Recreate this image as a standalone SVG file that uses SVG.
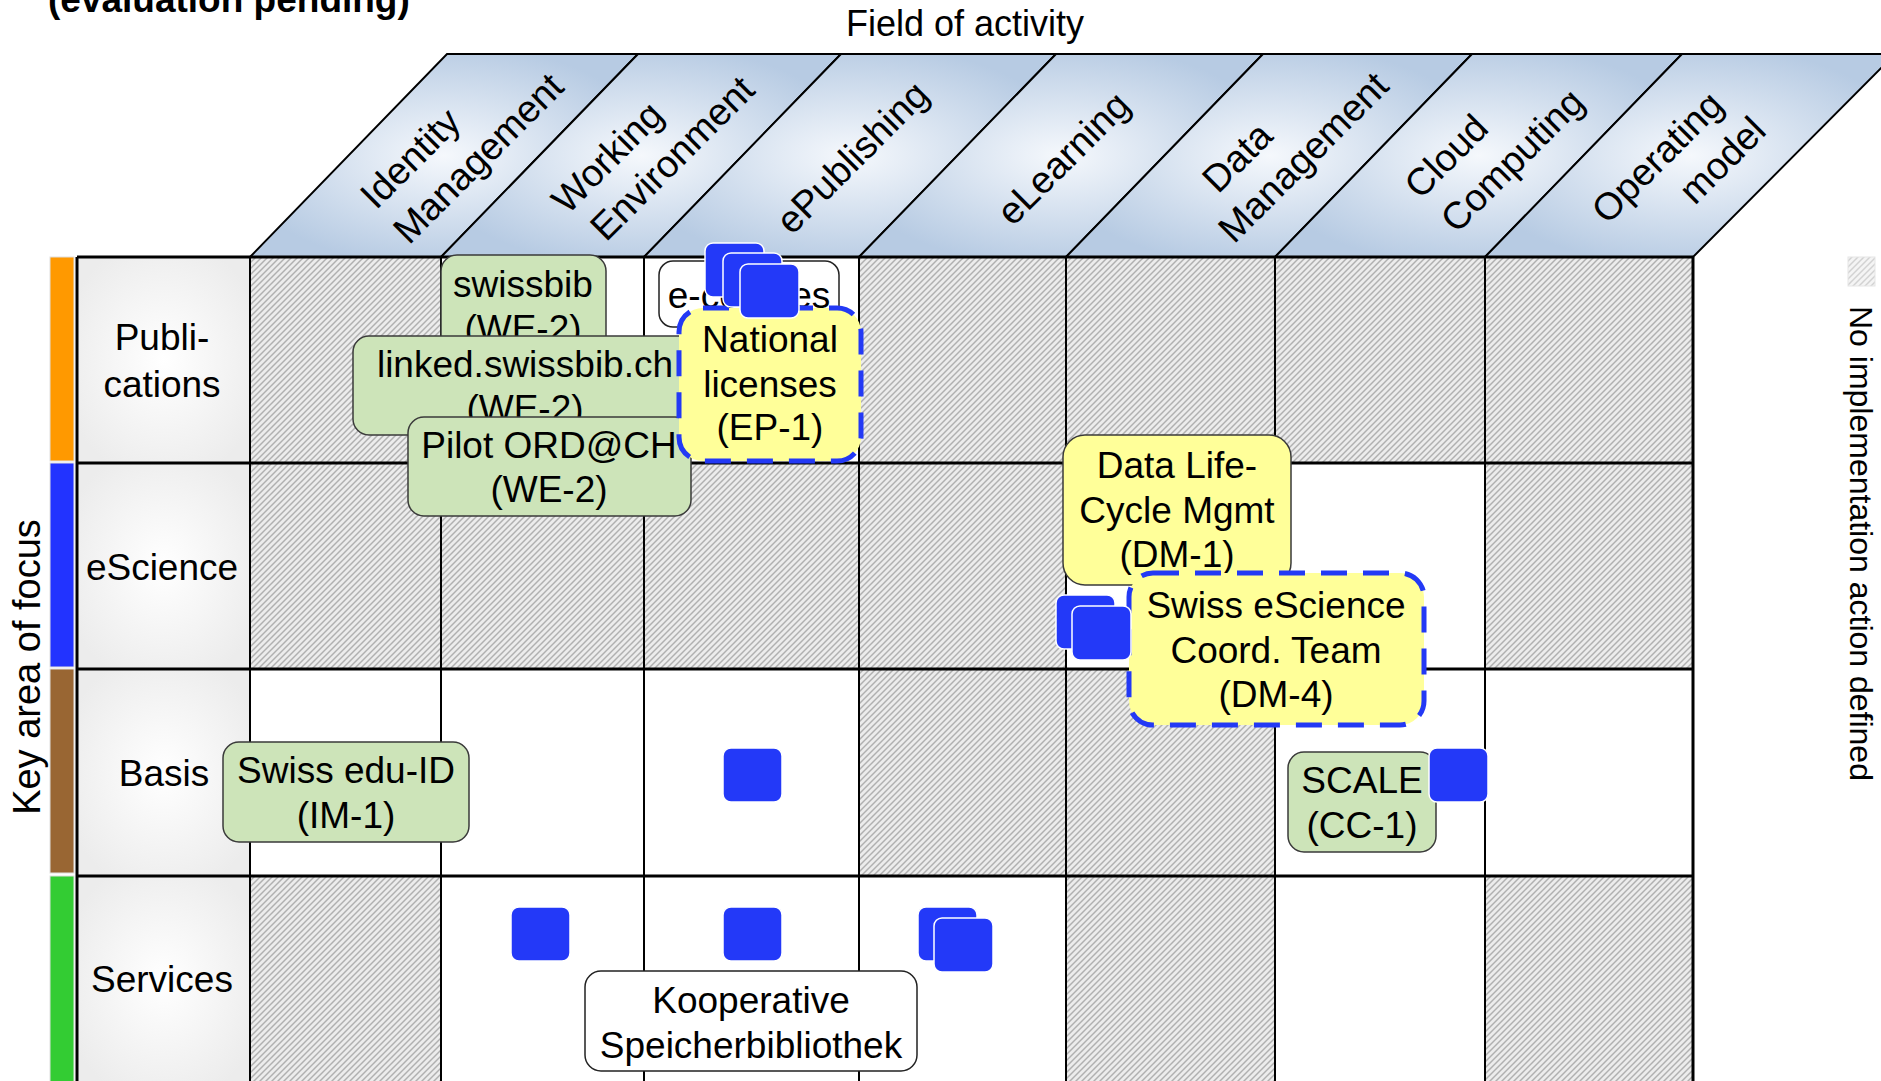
<svg xmlns="http://www.w3.org/2000/svg" width="1881" height="1081" viewBox="0 0 1881 1081">
<defs>
<style>
text{font-family:"Liberation Sans",Arial,sans-serif;fill:#000}
.t{font-size:37px;text-anchor:middle}
.h{font-size:38px;text-anchor:middle}
.green{fill:#cde4b9;stroke:#3a3a3a;stroke-width:1.5}
.yellow{fill:#ffff99;stroke:#3a3a3a;stroke-width:1.5}
.dashed{fill:#ffff99;stroke:#2339f5;stroke-width:5;stroke-dasharray:26 16}
.white{fill:#fff;stroke:#222;stroke-width:1.5}
.sq{fill:#2339f8;stroke:#fff;stroke-width:1.5}
.hc{fill:url(#hatch)}
.wc{fill:#fff}
.rh{fill:url(#rowg)}
.hdr{fill:url(#hg);stroke:#000;stroke-width:2}
.line{stroke:#000;fill:none}
</style>
<pattern id="hatch" width="6" height="6" patternUnits="userSpaceOnUse">
<rect width="6" height="6" fill="#b0b0b0"/>
<path d="M-1.5,1.5 L1.5,-1.5 M0,6 L6,0 M4.5,7.5 L7.5,4.5" stroke="#ececec" stroke-width="2.8"/>
</pattern>
<pattern id="hatchL" width="6" height="6" patternUnits="userSpaceOnUse">
<rect width="6" height="6" fill="#d2d2d2"/>
<path d="M-1.5,1.5 L1.5,-1.5 M0,6 L6,0 M4.5,7.5 L7.5,4.5" stroke="#f4f4f4" stroke-width="2.8"/>
</pattern>
<radialGradient id="hg" cx="0.5" cy="0.5" r="0.55">
<stop offset="0" stop-color="#f5f8fc"/>
<stop offset="1" stop-color="#b7cbe3"/>
</radialGradient>
<radialGradient id="rowg" cx="0.5" cy="0.5" r="0.6">
<stop offset="0" stop-color="#ffffff"/>
<stop offset="1" stop-color="#ececec"/>
</radialGradient>
</defs>

<rect width="1881" height="1081" fill="#fff"/>

<text x="48" y="12" style="font-size:37px;font-weight:bold">(evaluation pending)</text>
<text x="965" y="36" style="font-size:36px;text-anchor:middle">Field of activity</text>

<g id="key-area-label">
<text class="h" style="font-size:38px" transform="translate(40,667) rotate(-90)">Key area of focus</text>
</g>

<g id="header-band">
<polygon class="hdr" points="250,257 447,54 638,54 441,257"/>
<polygon class="hdr" points="441,257 638,54 841,54 644,257"/>
<polygon class="hdr" points="644,257 841,54 1056,54 859,257"/>
<polygon class="hdr" points="859,257 1056,54 1263,54 1066,257"/>
<polygon class="hdr" points="1066,257 1263,54 1472,54 1275,257"/>
<polygon class="hdr" points="1275,257 1472,54 1682,54 1485,257"/>
<polygon class="hdr" points="1485,257 1682,54 1895,54 1693,257"/>
</g>

<g id="header-labels">
<text class="h" dy="0.35em" transform="translate(410,158) rotate(-45)">Identity</text>
<text class="h" dy="0.35em" transform="translate(478,158) rotate(-45)">Management</text>
<text class="h" dy="0.35em" transform="translate(607,157) rotate(-45)">Working</text>
<text class="h" dy="0.35em" transform="translate(672,158) rotate(-45)">Environment</text>
<text class="h" dy="0.35em" transform="translate(852,157) rotate(-45)">ePublishing</text>
<text class="h" dy="0.35em" transform="translate(1063,158) rotate(-45)">eLearning</text>
<text class="h" dy="0.35em" transform="translate(1237,157) rotate(-45)">Data</text>
<text class="h" dy="0.35em" transform="translate(1303,157) rotate(-45)">Management</text>
<text class="h" dy="0.35em" transform="translate(1446,156) rotate(-45)">Cloud</text>
<text class="h" dy="0.35em" transform="translate(1512,160) rotate(-45)">Computing</text>
<text class="h" dy="0.35em" transform="translate(1657,157) rotate(-45)">Operating</text>
<text class="h" dy="0.35em" transform="translate(1722,160) rotate(-45)">model</text>
</g>

<g id="focus-bars">
<rect x="50" y="257" width="24" height="204" fill="#ff9900" stroke="#e0e0e0" stroke-width="1"/>
<rect x="50" y="463" width="24" height="204" fill="#2233ff" stroke="#e0e0e0" stroke-width="1"/>
<rect x="50" y="669" width="24" height="204" fill="#996633" stroke="#e0e0e0" stroke-width="1"/>
<rect x="50" y="876" width="24" height="210" fill="#33cc33" stroke="#e0e0e0" stroke-width="1"/>
</g>

<g id="grid">
<rect class="rh" x="77" y="257" width="173" height="206"/>
<rect class="rh" x="77" y="463" width="173" height="206"/>
<rect class="rh" x="77" y="669" width="173" height="207"/>
<rect class="rh" x="77" y="876" width="173" height="210"/>
<rect class="hc" x="250" y="257" width="191" height="206"/>
<rect class="wc" x="441" y="257" width="203" height="206"/>
<rect class="wc" x="644" y="257" width="215" height="206"/>
<rect class="hc" x="859" y="257" width="207" height="206"/>
<rect class="hc" x="1066" y="257" width="209" height="206"/>
<rect class="hc" x="1275" y="257" width="210" height="206"/>
<rect class="hc" x="1485" y="257" width="208" height="206"/>
<rect class="hc" x="250" y="463" width="191" height="206"/>
<rect class="hc" x="441" y="463" width="203" height="206"/>
<rect class="hc" x="644" y="463" width="215" height="206"/>
<rect class="hc" x="859" y="463" width="207" height="206"/>
<rect class="wc" x="1066" y="463" width="209" height="206"/>
<rect class="wc" x="1275" y="463" width="210" height="206"/>
<rect class="hc" x="1485" y="463" width="208" height="206"/>
<rect class="wc" x="250" y="669" width="191" height="207"/>
<rect class="wc" x="441" y="669" width="203" height="207"/>
<rect class="wc" x="644" y="669" width="215" height="207"/>
<rect class="hc" x="859" y="669" width="207" height="207"/>
<rect class="hc" x="1066" y="669" width="209" height="207"/>
<rect class="wc" x="1275" y="669" width="210" height="207"/>
<rect class="wc" x="1485" y="669" width="208" height="207"/>
<rect class="hc" x="250" y="876" width="191" height="210"/>
<rect class="wc" x="441" y="876" width="203" height="210"/>
<rect class="wc" x="644" y="876" width="215" height="210"/>
<rect class="wc" x="859" y="876" width="207" height="210"/>
<rect class="hc" x="1066" y="876" width="209" height="210"/>
<rect class="wc" x="1275" y="876" width="210" height="210"/>
<rect class="hc" x="1485" y="876" width="208" height="210"/>
<path class="line" stroke-width="3" d="M77,257 H1693 M77,463 H1693 M77,669 H1693 M77,876 H1693"/>
<path class="line" stroke-width="3" d="M77,257 V1086 M1693,257 V1086"/>
<path class="line" stroke-width="2" d="M250,257 V1086 M441,257 V1086 M644,257 V1086 M859,257 V1086 M1066,257 V1086 M1275,257 V1086 M1485,257 V1086"/>
</g>

<g id="row-labels">
<text class="t" x="162" y="350">Publi-</text>
<text class="t" x="162" y="397">cations</text>
<text class="t" x="162" y="580">eScience</text>
<text class="t" x="164" y="786">Basis</text>
<text class="t" x="162" y="992">Services</text>
</g>

<g id="connectors"></g>

<g id="node-swissbib">
<rect class="green" x="441" y="255" width="165" height="100" rx="16"/>
<text class="t" x="523" y="297">swissbib</text>
<text class="t" x="523" y="341">(WE-2)</text>
</g>
<g id="node-ecourses">
<rect class="white" x="659" y="261" width="180" height="66" rx="14"/>
<text class="t" x="749" y="308">e-courses</text>
</g>
<g id="node-linked-swissbib">
<rect class="green" x="353" y="336" width="344" height="99" rx="16"/>
<text class="t" x="525" y="377">linked.swissbib.ch</text>
<text class="t" x="525" y="421">(WE-2)</text>
</g>
<g id="node-pilot-ord">
<rect class="green" x="408" y="417" width="283" height="99" rx="16"/>
<text class="t" x="549" y="458">Pilot ORD@CH</text>
<text class="t" x="549" y="502">(WE-2)</text>
</g>
<g id="node-national-licenses">
<rect class="dashed" x="679" y="308" width="182" height="153" rx="24"/>
<text class="t" x="770" y="352">National</text>
<text class="t" x="770" y="397">licenses</text>
<text class="t" x="770" y="440">(EP-1)</text>
</g>
<g id="marker-ep-stack">
<rect class="sq" x="705" y="243" width="59" height="54" rx="8"/>
<rect class="sq" x="723" y="253" width="59" height="54" rx="8"/>
<rect class="sq" x="740" y="264" width="59" height="54" rx="8"/>
</g>

<g id="node-dlcm">
<rect class="yellow" x="1063" y="435" width="228" height="150" rx="22"/>
<text class="t" x="1177" y="478">Data Life-</text>
<text class="t" x="1177" y="523">Cycle Mgmt</text>
<text class="t" x="1177" y="567">(DM-1)</text>
</g>
<g id="node-swiss-escience">
<rect class="dashed" x="1129" y="573" width="295" height="152" rx="24"/>
<text class="t" x="1276" y="618">Swiss eScience</text>
<text class="t" x="1276" y="663">Coord. Team</text>
<text class="t" x="1276" y="707">(DM-4)</text>
</g>
<g id="marker-dm-stack">
<rect class="sq" x="1056" y="595" width="59" height="54" rx="8"/>
<rect class="sq" x="1072" y="606" width="59" height="54" rx="8"/>
</g>

<g id="node-edu-id">
<rect class="green" x="223" y="742" width="246" height="100" rx="16"/>
<text class="t" x="346" y="783">Swiss edu-ID</text>
<text class="t" x="346" y="828">(IM-1)</text>
</g>
<g id="marker-basis-ep">
<rect class="sq" x="723" y="748" width="59" height="54" rx="8"/>
</g>
<g id="node-scale">
<rect class="green" x="1288" y="752" width="148" height="100" rx="16"/>
<text class="t" x="1362" y="793">SCALE</text>
<text class="t" x="1362" y="838">(CC-1)</text>
</g>
<g id="marker-scale">
<rect class="sq" x="1429" y="748" width="59" height="54" rx="8"/>
</g>

<g id="marker-services-we">
<rect class="sq" x="511" y="907" width="59" height="54" rx="8"/>
</g>
<g id="marker-services-ep">
<rect class="sq" x="723" y="907" width="59" height="54" rx="8"/>
</g>
<g id="marker-services-el">
<rect class="sq" x="918" y="907" width="59" height="54" rx="8"/>
<rect class="sq" x="934" y="918" width="59" height="54" rx="8"/>
</g>
<g id="node-kooperative">
<rect class="white" x="585" y="971" width="332" height="100" rx="16"/>
<text class="t" x="751" y="1013">Kooperative</text>
<text class="t" x="751" y="1058">Speicherbibliothek</text>
</g>

<g id="legend">
<rect x="1848" y="257" width="27" height="29" fill="url(#hatchL)" stroke="#e6e6e6" stroke-width="1"/>
<text style="font-size:32px" transform="translate(1850,306) rotate(90)">No implementation action defined</text>
</g>
</svg>
